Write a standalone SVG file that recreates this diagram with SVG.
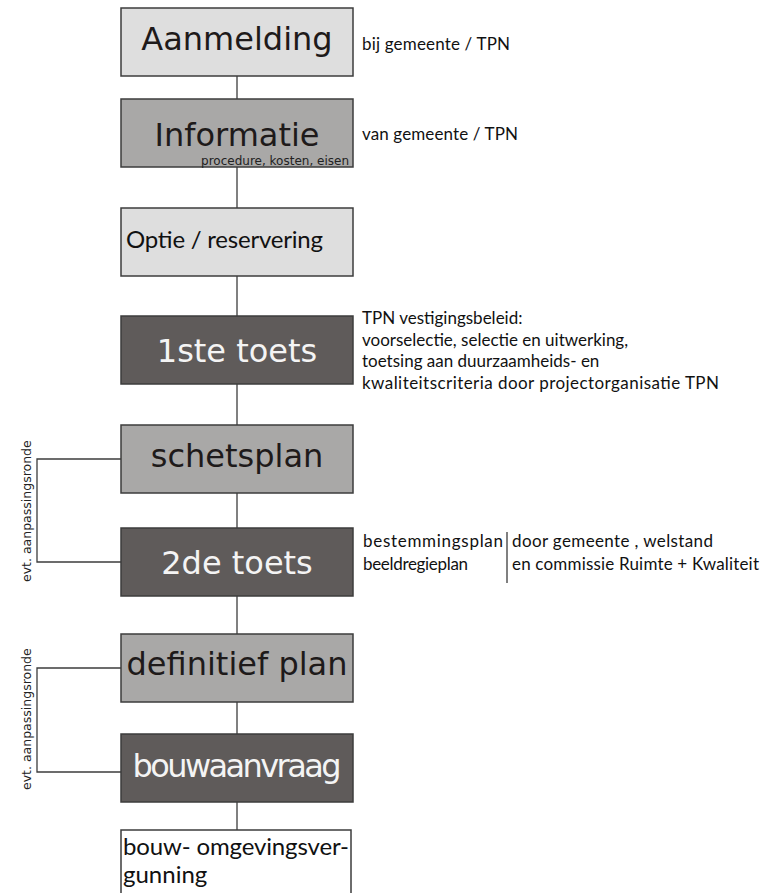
<svg xmlns="http://www.w3.org/2000/svg" width="782" height="893" viewBox="0 0 782 893">
<style>
.box{stroke:#3c3c3c;stroke-width:1.5}
.light{fill:#dedede}
.mid{fill:#a9a8a7}
.dark{fill:#5f5b5a}
.white{fill:#ffffff}
.big{font-family:"DejaVu Sans",Verdana,sans-serif;font-size:32px;text-anchor:middle}
.dt{fill:#1e1a1a}
.wt{fill:#f4f4f4}
.hum{font-family:Lato,"Open Sans",sans-serif;fill:#111}
.note{font-family:Lato,"Open Sans",sans-serif;font-size:17px;fill:#111}
.side{font-family:"DejaVu Sans",Verdana,sans-serif;font-size:12.5px;fill:#222}
.ln{stroke:#3c3c3c;stroke-width:1.3;fill:none}
</style>
<rect width="782" height="893" fill="#ffffff"/>
<g id="connectors">
<line class="ln" x1="237" y1="76" x2="237" y2="99"/>
<line class="ln" x1="237" y1="167" x2="237" y2="208"/>
<line class="ln" x1="237" y1="276" x2="237" y2="316"/>
<line class="ln" x1="237" y1="384" x2="237" y2="425"/>
<line class="ln" x1="237" y1="493" x2="237" y2="528"/>
<line class="ln" x1="237" y1="596" x2="237" y2="634"/>
<line class="ln" x1="237" y1="702" x2="237" y2="734"/>
<line class="ln" x1="237" y1="802" x2="237" y2="830"/>
<polyline class="ln" points="121,459 37,459 37,562 121,562"/>
<polyline class="ln" points="121,668 37,668 37,772 121,772"/>
<line class="ln" x1="507" y1="532" x2="507" y2="583"/>
</g>
<g id="aanmelding">
<rect class="box light" x="121" y="8" width="232" height="68"/>
<text class="big dt" x="237" y="50">Aanmelding</text>
<text class="note" x="362" y="50" textLength="148">bij gemeente / TPN</text>
</g>
<g id="informatie">
<rect class="box mid" x="121" y="99" width="232" height="68"/>
<text class="big dt" x="237" y="146">Informatie</text>
<text x="349" y="165" font-family="DejaVu Sans, Verdana, sans-serif" font-size="12" fill="#222" text-anchor="end">procedure, kosten, eisen</text>
<text class="note" x="362" y="140" textLength="156">van gemeente / TPN</text>
</g>
<g id="optie">
<rect class="box light" x="121" y="208" width="232" height="68"/>
<text class="hum" x="126" y="248" font-size="24" textLength="197">Optie / reservering</text>
</g>
<g id="toets1">
<rect class="box dark" x="121" y="316" width="232" height="68"/>
<text class="big wt" x="237" y="362">1ste toets</text>
<text class="note" x="362" y="324">TPN vestigingsbeleid:</text>
<text class="note" x="362" y="345.5">voorselectie, selectie en uitwerking,</text>
<text class="note" x="362" y="367">toetsing aan duurzaamheids- en</text>
<text class="note" x="362" y="388.5" textLength="357">kwaliteitscriteria door projectorganisatie TPN</text>
</g>
<g id="schetsplan">
<rect class="box mid" x="121" y="425" width="232" height="68"/>
<text class="big dt" x="237" y="467">schetsplan</text>
</g>
<g id="toets2">
<rect class="box dark" x="121" y="528" width="232" height="68"/>
<text class="big wt" x="237" y="574">2de toets</text>
<text class="note" x="363" y="547" textLength="140">bestemmingsplan</text>
<text class="note" x="363" y="570" textLength="105">beeldregieplan</text>
<text class="note" x="512" y="547" textLength="201">door gemeente , welstand</text>
<text class="note" x="512" y="570" textLength="247">en commissie Ruimte + Kwaliteit</text>
</g>
<g id="aanpassing1">
<text class="side" transform="translate(31,582) rotate(-90)">evt. aanpassingsronde</text>
</g>
<g id="definitief">
<rect class="box mid" x="121" y="634" width="232" height="68"/>
<text class="big dt" x="237" y="675">definitief plan</text>
</g>
<g id="bouwaanvraag">
<rect class="box dark" x="121" y="734" width="232" height="68"/>
<text class="big wt" x="237" y="777" font-size="29" textLength="209">bouwaanvraag</text>
</g>
<g id="aanpassing2">
<text class="side" transform="translate(31,790) rotate(-90)">evt. aanpassingsronde</text>
</g>
<g id="vergunning">
<rect class="box white" x="121" y="830" width="230" height="80"/>
<text class="hum" x="123" y="855" font-size="24" textLength="226">bouw- omgevingsver-</text>
<text class="hum" x="123" y="883" font-size="24">gunning</text>
</g>
</svg>
